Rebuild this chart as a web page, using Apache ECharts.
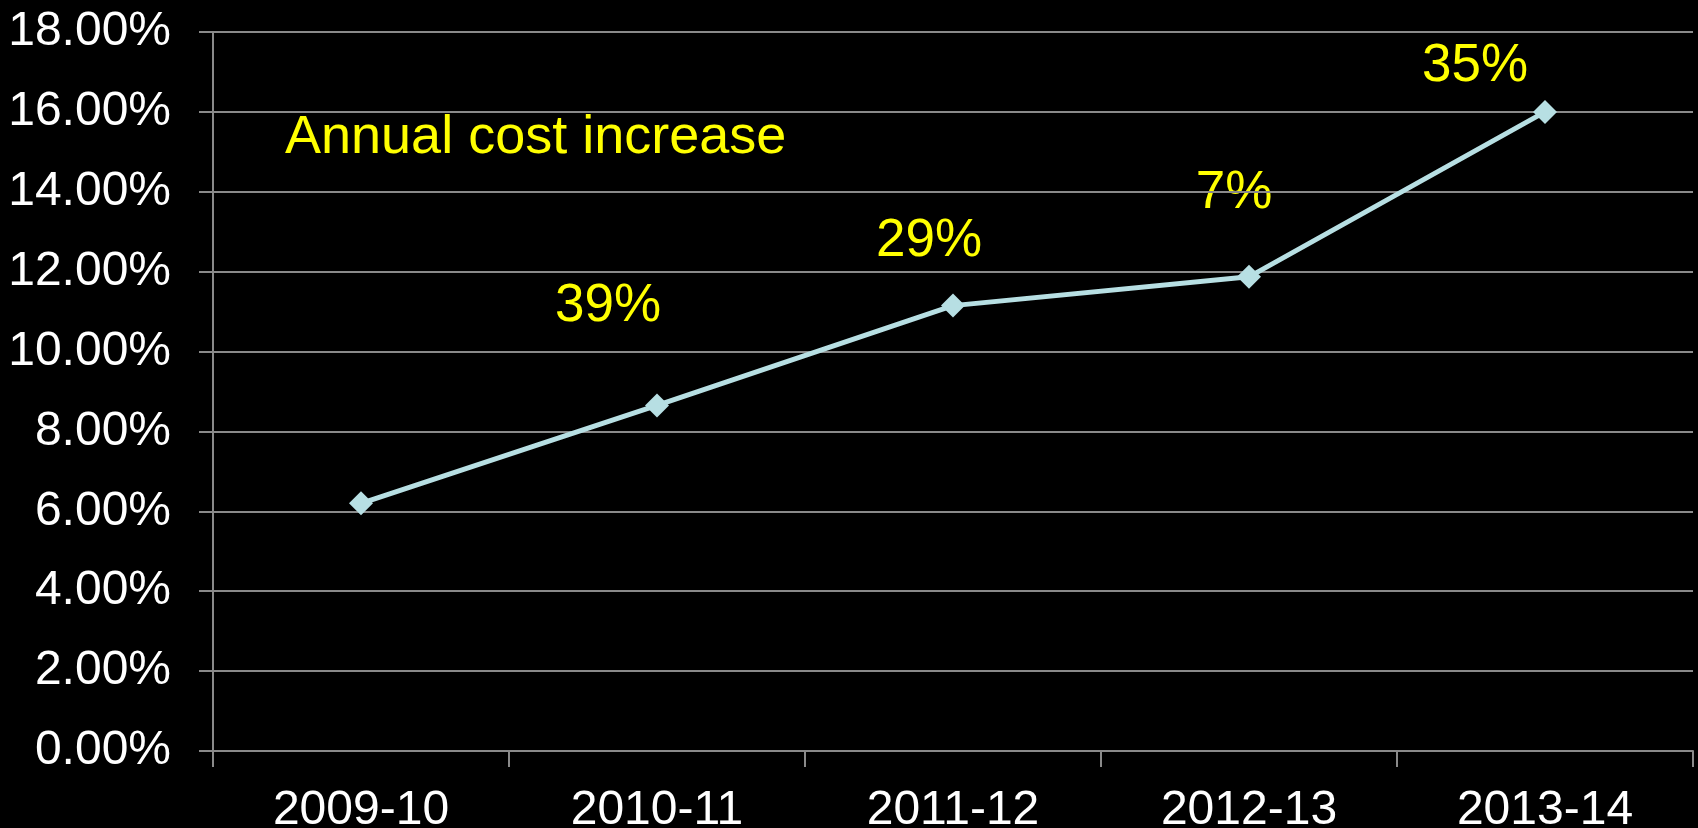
<!DOCTYPE html>
<html>
<head>
<meta charset="utf-8">
<style>
html,body{margin:0;padding:0;background:#000;}
#chart{width:1698px;height:828px;}
</style>
<script src="https://cdn.jsdelivr.net/npm/echarts@6/dist/echarts.min.js"></script>
</head>
<body>
<div id="chart"></div>
<script>
const categories = ['2009-10', '2010-11', '2011-12', '2012-13', '2013-14'];
const costShare = [6.2, 8.65, 11.15, 11.87, 16.0];
const increaseLabels = ['39%', '29%', '7%', '35%'];
const annotationTitle = 'Annual cost increase';

const chart = echarts.init(document.getElementById('chart'));
const FONT = '"Liberation Sans", Arial, sans-serif';
const yellow = '#ffff00';
const labelPos = [[608, 306], [929, 241], [1234, 193], [1475, 66]];

const graphics = [{
  type: 'text', left: 285, top: 111,
  style: { text: annotationTitle, fill: yellow, font: '54px ' + FONT }
}];
increaseLabels.forEach((t, i) => {
  graphics.push({
    type: 'text', x: labelPos[i][0], y: labelPos[i][1],
    style: { text: t, fill: yellow, font: '53px ' + FONT, align: 'center', verticalAlign: 'middle' }
  });
});

chart.setOption({
  backgroundColor: '#000',
  animation: false,
  grid: { left: 213, right: 5, top: 32, bottom: 77, containLabel: false, outerBoundsMode: 'none' },
  xAxis: {
    type: 'category',
    data: categories,
    boundaryGap: true,
    axisLine: { lineStyle: { color: '#8a8a8a', width: 2 } },
    axisTick: { show: true, length: 16, lineStyle: { color: '#8a8a8a', width: 2 } },
    axisLabel: { color: '#fff', fontSize: 48, fontFamily: FONT, margin: 36 },
    splitLine: { show: false }
  },
  yAxis: {
    type: 'value',
    min: 0, max: 18, interval: 2,
    axisLine: { show: true, lineStyle: { color: '#8a8a8a', width: 2 } },
    axisTick: { show: true, length: 14, lineStyle: { color: '#8a8a8a', width: 2 } },
    axisLabel: { color: '#fff', fontSize: 48, fontFamily: FONT, margin: 42,
      formatter: v => v.toFixed(2) + '%' },
    splitLine: { show: true, lineStyle: { color: '#8a8a8a', width: 2 } }
  },
  series: [{
    type: 'line',
    data: costShare,
    symbol: 'diamond',
    symbolSize: 24,
    lineStyle: { color: '#b7dfe3', width: 5 },
    itemStyle: { color: '#b7dfe3' }
  }],
  graphic: graphics
});
</script>
</body>
</html>
